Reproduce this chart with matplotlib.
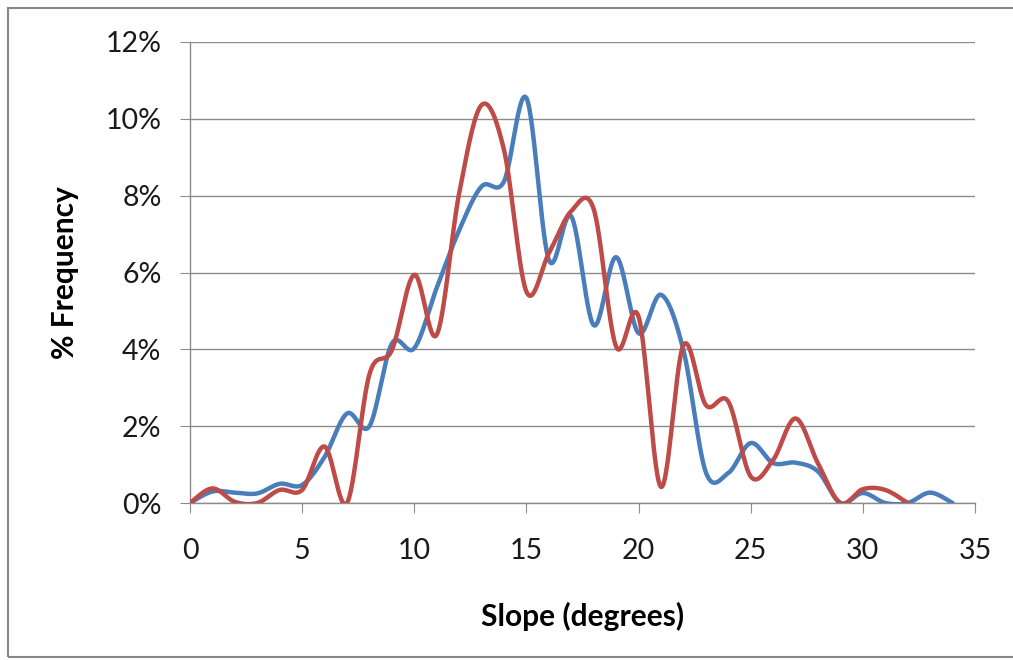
import numpy as np
import matplotlib
matplotlib.use("Agg")
import matplotlib.pyplot as plt
from matplotlib.patches import Rectangle

# Data (% frequency per slope degree)
slope_blue = list(range(0, 35))
freq_blue = [0.0, 0.3, 0.27, 0.25, 0.5, 0.47, 1.2, 2.33, 2.0, 4.15,
             4.03, 5.6, 7.1, 8.24, 8.37, 10.54, 6.33, 7.46, 4.63, 6.4,
             4.42, 5.42, 3.98, 0.8, 0.78, 1.56, 1.04, 1.05, 0.82, 0.0,
             0.26, 0.0, 0.0, 0.27, 0.0]
slope_red = list(range(0, 33))
freq_red = [0.0, 0.38, 0.03, 0.0, 0.34, 0.34, 1.47, 0.0, 3.35, 3.98,
            5.94, 4.38, 8.06, 10.36, 9.19, 5.5, 6.5, 7.6, 7.65, 4.07,
            4.85, 0.42, 4.11, 2.55, 2.64, 0.69, 1.12, 2.2, 1.03, 0.0,
            0.36, 0.34, 0.0]

x_ticks = [0, 5, 10, 15, 20, 25, 30, 35]
y_ticks = [0, 2, 4, 6, 8, 10, 12]
y_ticklabels = ["0%", "2%", "4%", "6%", "8%", "10%", "12%"]

BLUE = "#4A7EBB"
RED = "#BE4B48"


def smooth(xs, ys, n=30):
    """Excel-like smoothed line (Catmull-Rom Bezier through the points)."""
    xs = np.asarray(xs, float)
    ys = np.asarray(ys, float)
    px = np.concatenate([[xs[0]], xs, [xs[-1]]])
    py = np.concatenate([[ys[0]], ys, [ys[-1]]])
    outx, outy = [], []
    t = np.linspace(0, 1, n)
    for i in range(1, len(px) - 2):
        p0x, p1x, p2x, p3x = px[i - 1], px[i], px[i + 1], px[i + 2]
        p0y, p1y, p2y, p3y = py[i - 1], py[i], py[i + 1], py[i + 2]
        c1x = p1x + (p2x - p0x) / 6
        c1y = p1y + (p2y - p0y) / 6
        c2x = p2x - (p3x - p1x) / 6
        c2y = p2y - (p3y - p1y) / 6
        bx = ((1 - t) ** 3 * p1x + 3 * (1 - t) ** 2 * t * c1x
              + 3 * (1 - t) * t ** 2 * c2x + t ** 3 * p2x)
        by = ((1 - t) ** 3 * p1y + 3 * (1 - t) ** 2 * t * c1y
              + 3 * (1 - t) * t ** 2 * c2y + t ** 3 * p2y)
        outx.extend(bx)
        outy.extend(by)
    return np.array(outx), np.array(outy)


plt.rcParams['font.family'] = ['Lato', 'DejaVu Sans']

fig = plt.figure(figsize=(10.13, 6.6), dpi=100)
fig.patch.set_facecolor("white")

# outer chart border
fig.patches.append(Rectangle((8 / 1013, 3 / 660), 1.2, 649 / 660,
                             transform=fig.transFigure, fill=False,
                             edgecolor="#888888", linewidth=1.5))

ax = fig.add_axes([190 / 1013, 1 - 503 / 660, 785 / 1013, 461 / 660])

bx, by = smooth(slope_blue, freq_blue)
rx, ry = smooth(slope_red, freq_red)
ax.plot(bx, by, color=BLUE, lw=3.2, solid_capstyle="round", zorder=3)
ax.plot(rx, ry, color=RED, lw=3.2, solid_capstyle="round", zorder=4)

ax.set_xlim(0, 35)
ax.set_ylim(0, 12)
ax.set_xticks(x_ticks)
ax.set_yticks(y_ticks)
ax.set_yticklabels(y_ticklabels)
ax.grid(axis="y", color="#8c8c8c", lw=1.0)
ax.set_axisbelow(True)

for s in ["top", "right"]:
    ax.spines[s].set_visible(False)
for s in ["left", "bottom"]:
    ax.spines[s].set_color("#8c8c8c")
    ax.spines[s].set_linewidth(1.0)

ax.tick_params(axis="both", direction="out", length=7.5, color="#8c8c8c",
               labelsize=20.5, labelcolor="#1a1a1a")
ax.tick_params(axis="x", pad=18)
ax.tick_params(axis="y", pad=13)

ax.set_xlabel("Slope (degrees)", fontsize=21.5, fontweight="bold")
ax.set_ylabel("% Frequency", fontsize=21.5, fontweight="bold")
ax.xaxis.set_label_coords(0.5, (503 - 616) / 461)
ax.xaxis.label.set_va("center")
ax.yaxis.set_label_coords((65 - 190) / 785, 0.5)
ax.yaxis.label.set_va("center")

fig.savefig("out.png", dpi=100, facecolor="white")
